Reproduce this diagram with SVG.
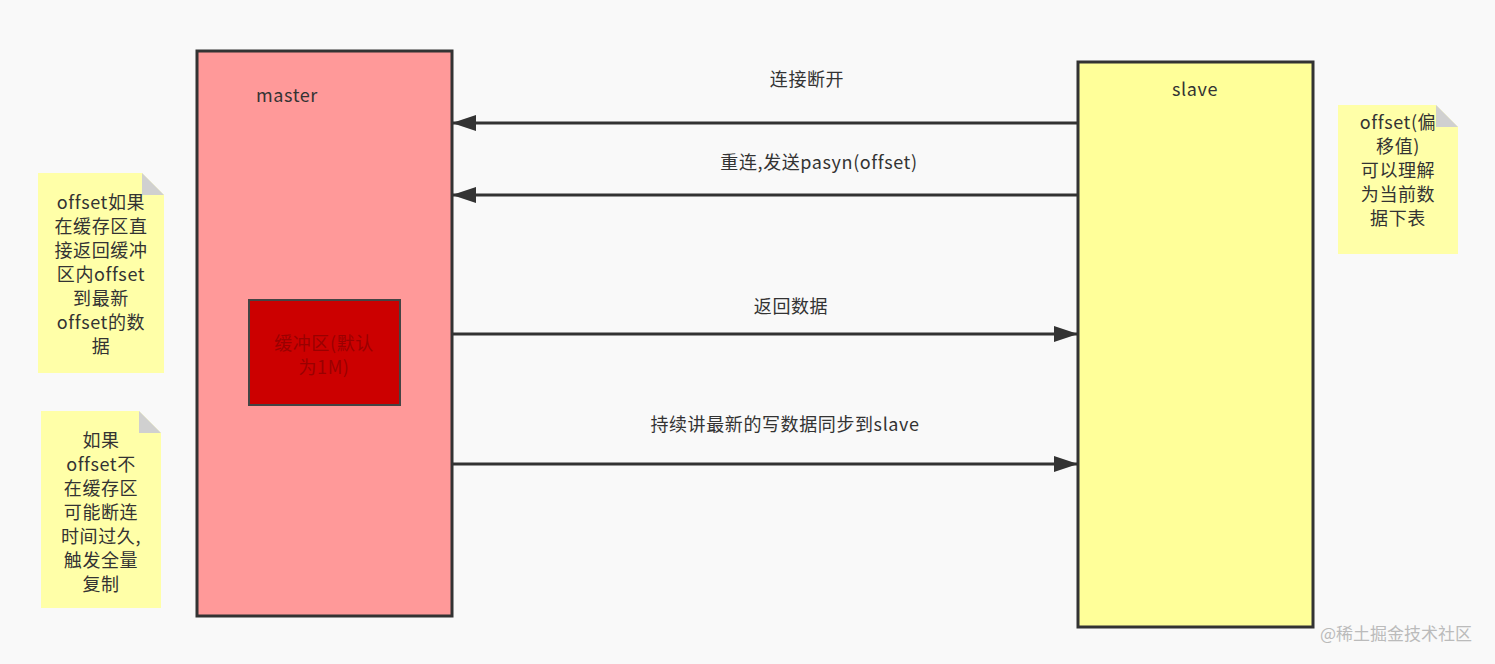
<svg xmlns="http://www.w3.org/2000/svg" width="1495" height="664" viewBox="0 0 1495 664">
<style>
text{font-family:"Microsoft YaHei","Noto Sans CJK SC","Noto Sans",sans-serif;fill:#333;}
.lbl{font-size:18px;text-anchor:middle;letter-spacing:0.6px;}
.note{fill:#ffffa8;}
.fold{fill:#d0d0d0;}
.edge{stroke:#333;stroke-width:3;fill:none;}
</style>
<defs>
<marker id="ah" markerWidth="24" markerHeight="16" refX="23" refY="8" orient="auto" markerUnits="userSpaceOnUse" viewBox="0 0 24 16">
<path d="M0,0 L24,8 L0,16 Z" fill="#333"/>
</marker>
</defs>
<rect width="1495" height="664" fill="#f9f9f9"/>
<g id="master">
<rect x="197" y="51" width="255" height="565" fill="#ff9999" stroke="#333" stroke-width="3"/>
<text class="lbl" x="287" y="102">master</text>
</g>
<g id="buffer">
<rect x="249" y="300" width="151" height="105" fill="#cc0000" stroke="#444" stroke-width="2"/>
<text class="lbl" x="324" y="350" style="fill:#990000">缓冲区(默认</text>
<text class="lbl" x="324" y="374" style="fill:#990000">为1M)</text>
</g>
<g id="slave">
<rect x="1078" y="62" width="235" height="565" fill="#ffff99" stroke="#333" stroke-width="3"/>
<text class="lbl" x="1195" y="96">slave</text>
</g>
<g id="note1">
<path class="note" d="M38,173 H142 L164,195 V373 H38 Z"/>
<path class="fold" d="M142,173 L164,195 H142 Z"/>
<text class="lbl"><tspan x="101" y="209">offset如果</tspan><tspan x="101" y="233">在缓存区直</tspan><tspan x="101" y="257">接返回缓冲</tspan><tspan x="101" y="281">区内offset</tspan><tspan x="101" y="305">到最新</tspan><tspan x="101" y="329">offset的数</tspan><tspan x="101" y="353">据</tspan></text>
</g>
<g id="note2">
<path class="note" d="M41,411 H139 L161,433 V608 H41 Z"/>
<path class="fold" d="M139,411 L161,433 H139 Z"/>
<text class="lbl"><tspan x="101" y="447">如果</tspan><tspan x="101" y="471">offset不</tspan><tspan x="101" y="495">在缓存区</tspan><tspan x="101" y="519">可能断连</tspan><tspan x="101" y="543">时间过久,</tspan><tspan x="101" y="567">触发全量</tspan><tspan x="101" y="591">复制</tspan></text>
</g>
<g id="note3">
<path class="note" d="M1338,105 H1436 L1458,127 V254 H1338 Z"/>
<path class="fold" d="M1436,105 L1458,127 H1436 Z"/>
<text class="lbl"><tspan x="1398" y="129">offset(偏</tspan><tspan x="1398" y="153">移值)</tspan><tspan x="1398" y="177">可以理解</tspan><tspan x="1398" y="201">为当前数</tspan><tspan x="1398" y="225">据下表</tspan></text>
</g>
<g id="connectors">
<line class="edge" x1="1077" y1="123" x2="453" y2="123" marker-end="url(#ah)"/>
<line class="edge" x1="1077" y1="195" x2="453" y2="195" marker-end="url(#ah)"/>
<line class="edge" x1="453" y1="334" x2="1077" y2="334" marker-end="url(#ah)"/>
<line class="edge" x1="453" y1="464" x2="1077" y2="464" marker-end="url(#ah)"/>
<text class="lbl" x="807" y="86">连接断开</text>
<text class="lbl" x="819" y="169">重连,发送pasyn(offset)</text>
<text class="lbl" x="791" y="313">返回数据</text>
<text class="lbl" x="785" y="431">持续讲最新的写数据同步到slave</text>
</g>
<text x="1396" y="640" style="font-size:17px;text-anchor:middle;fill:#bbb">@稀土掘金技术社区</text>
</svg>
